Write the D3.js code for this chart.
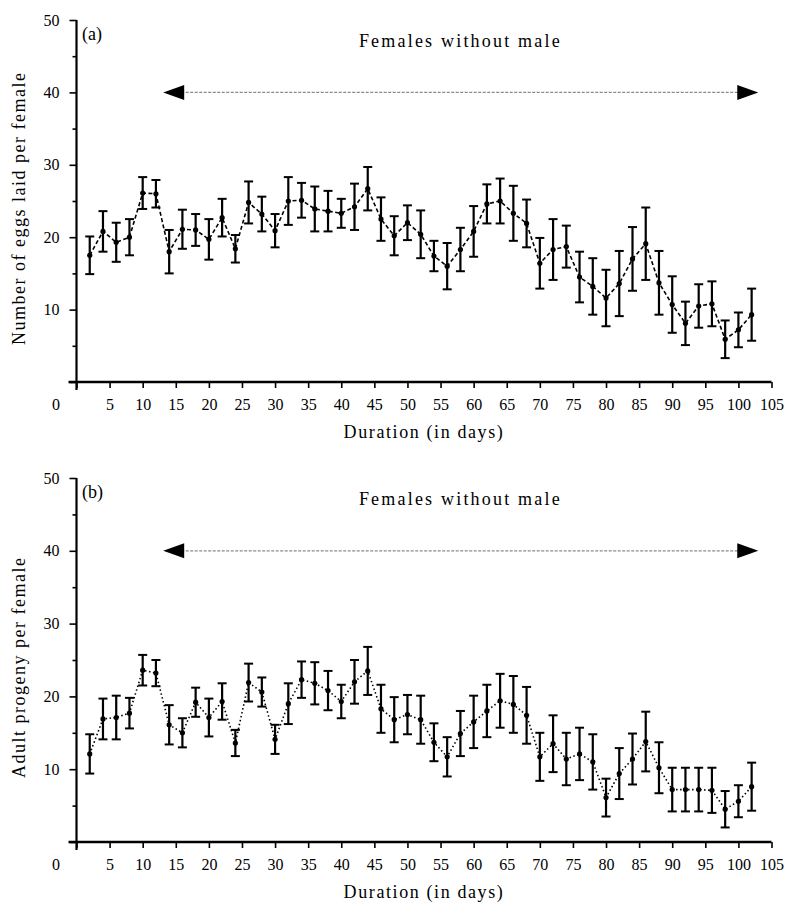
<!DOCTYPE html>
<html>
<head>
<meta charset="utf-8">
<script src="https://cdn.jsdelivr.net/npm/d3@7"></script>
<style>
  body { margin: 0; background: #fff; }
  text { font-family: "Liberation Serif", "Times New Roman", serif; fill: #000; }
</style>
</head>
<body>
<div id="chart"></div>
<script>
// Sampling days (every second day)
const days = [2, 4, 6, 8, 10, 12, 14, 16, 18, 20, 22, 24, 26, 28, 30, 32, 34, 36, 38, 40,
  42, 44, 46, 48, 50, 52, 54, 56, 58, 60, 62, 64, 66, 68, 70, 72, 74, 76, 78, 80,
  82, 84, 86, 88, 90, 92, 94, 96, 98, 100, 102];

// (a) eggs laid per female, mean and error
const eggsMean = [17.5, 20.8, 19.3, 20.0, 26.1, 26.0, 18.0, 21.1, 21.0, 19.7, 22.7, 18.4, 24.8, 23.2, 20.9,
  25.0, 25.1, 23.9, 23.6, 23.3, 24.2, 26.7, 22.5, 20.2, 22.0, 20.4, 17.4, 16.0, 18.3, 20.8,
  24.6, 25.0, 23.3, 21.9, 16.4, 18.3, 18.7, 14.5, 13.2, 11.6, 13.6, 17.0, 19.1, 13.7, 10.7,
  8.1, 10.5, 10.8, 5.9, 7.2, 9.3];
const eggsErr = [2.6, 2.8, 2.7, 2.5, 2.2, 1.9, 3.0, 2.7, 2.2, 2.8, 2.6, 1.9, 2.9, 2.4, 2.3,
  3.3, 2.4, 3.1, 2.8, 2.0, 3.2, 3.0, 3.0, 2.7, 2.4, 3.3, 2.1, 3.2, 3.0, 3.5,
  2.7, 3.1, 3.8, 3.3, 3.5, 4.2, 2.9, 3.5, 3.9, 3.9, 4.5, 4.4, 5.0, 4.4, 3.9,
  3.0, 3.0, 3.1, 2.6, 2.4, 3.6];

// (b) adult progeny per female, mean and error
const progenyMean = [12.1, 16.9, 17.1, 17.7, 23.6, 23.2, 16.1, 15.0, 19.2, 17.1, 19.3, 13.6, 21.9, 20.6, 14.1,
  19.0, 22.3, 21.8, 20.8, 19.3, 22.0, 23.5, 18.3, 16.8, 17.5, 16.8, 13.7, 11.7, 14.9, 16.5,
  18.0, 19.4, 18.9, 17.4, 11.7, 13.5, 11.4, 12.1, 11.0, 6.1, 9.4, 11.4, 13.8, 10.2, 7.2,
  7.2, 7.2, 7.1, 4.5, 5.6, 7.6];
const progenyErr = [2.7, 2.8, 3.0, 2.1, 2.1, 1.8, 2.7, 2.0, 2.0, 2.6, 2.5, 1.8, 2.6, 2.0, 2.0,
  2.8, 2.5, 2.9, 2.7, 2.3, 3.0, 3.3, 3.3, 3.1, 2.7, 3.3, 2.6, 2.7, 3.1, 3.6,
  3.6, 3.7, 3.9, 3.9, 3.3, 3.9, 3.6, 3.6, 3.8, 2.6, 3.5, 3.5, 4.1, 3.5, 3.0,
  3.0, 3.0, 3.1, 2.5, 2.2, 3.3];

// Axis ticks
const xTicks = [0, 5, 10, 15, 20, 25, 30, 35, 40, 45, 50, 55, 60, 65, 70, 75, 80, 85, 90, 95, 100, 105];
const yTicks = [0, 5, 10, 15, 20, 25, 30, 35, 40, 45, 50];
const yLabels = [10, 20, 30, 40, 50];

const width = 788, height = 905;

const svg = d3.select("#chart").append("svg")
    .attr("width", width)
    .attr("height", height);

const x = d3.scaleLinear().domain([0, 105]).range([76.5, 771.5]);

const panels = [
  { tag: "(a)", title: "Number of eggs laid per female", mean: eggsMean, err: eggsErr,
    range: [382, 20], dash: "4,2.5" },
  { tag: "(b)", title: "Adult progeny per female", mean: progenyMean, err: progenyErr,
    range: [842, 478], dash: "1.5,2.5" }
];

panels.forEach(p => {
  const y = d3.scaleLinear().domain([0, 50]).range(p.range);
  const g = svg.append("g");
  const data = days.map((d, i) => ({ day: d, mean: p.mean[i], err: p.err[i] }));

  // x axis
  const xAxis = g.append("g")
      .attr("transform", `translate(0,${y(0)})`)
      .call(d3.axisBottom(x).tickValues(xTicks).tickSize(6).tickPadding(11));
  xAxis.select(".domain").attr("d", `M${x(0) - 8},0H${x(105)}`).attr("stroke-width", 2.4);
  xAxis.selectAll(".tick line").attr("stroke-width", 1.6);
  xAxis.selectAll(".tick text").attr("font-size", 16).attr("font-family", "Liberation Serif");
  xAxis.selectAll(".tick").filter(d => d === 0).select("text").attr("x", -21);

  // y axis
  const yAxis = g.append("g")
      .attr("transform", `translate(${x(0)},0)`)
      .call(d3.axisLeft(y).tickValues(yTicks)
        .tickFormat(d => yLabels.includes(d) ? d : "")
        .tickSize(7).tickPadding(10));
  yAxis.select(".domain").attr("d", `M0,${y(0) + 8}V${y(50)}`).attr("stroke-width", 2.2);
  yAxis.selectAll(".tick line")
      .attr("x2", d => d % 10 === 0 ? -7 : -4)
      .attr("stroke-width", 1.6);
  yAxis.selectAll(".tick text").attr("font-size", 16).attr("font-family", "Liberation Serif");

  // axis titles
  g.append("text")
      .attr("x", (x(0) + x(105)) / 2)
      .attr("y", y(0) + 56)
      .attr("text-anchor", "middle")
      .attr("font-size", 18)
      .attr("letter-spacing", 1.6)
      .text("Duration (in days)");

  g.append("text")
      .attr("transform", `translate(25,${y(24)}) rotate(-90)`)
      .attr("text-anchor", "middle")
      .attr("font-size", 18)
      .attr("letter-spacing", 1.5)
      .text(p.title);

  g.append("text")
      .attr("x", 82)
      .attr("y", y(47.2))
      .attr("font-size", 18)
      .text(p.tag);

  // "Females without male" double arrow
  g.append("text")
      .attr("x", x(58))
      .attr("y", y(46.3))
      .attr("text-anchor", "middle")
      .attr("font-size", 18)
      .attr("letter-spacing", 2.2)
      .text("Females without male");

  const ax0 = x(13.1), ax1 = x(103), ay = y(40);
  g.append("line")
      .attr("x1", ax0 + 18).attr("x2", ax1 - 18)
      .attr("y1", ay).attr("y2", ay)
      .attr("stroke", "#8a8a8a")
      .attr("stroke-width", 1.2)
      .attr("stroke-dasharray", "3,1.5");
  g.append("path")
      .attr("d", `M${ax0},${ay}L${ax0 + 21},${ay - 7.5}L${ax0 + 21},${ay + 7.5}Z`)
      .attr("fill", "#000");
  g.append("path")
      .attr("d", `M${ax1},${ay}L${ax1 - 21},${ay - 7.5}L${ax1 - 21},${ay + 7.5}Z`)
      .attr("fill", "#000");

  // connecting line
  g.append("path")
      .datum(data)
      .attr("fill", "none")
      .attr("stroke", "#000")
      .attr("stroke-width", 1.6)
      .attr("stroke-dasharray", p.dash)
      .attr("d", d3.line().x(d => x(d.day)).y(d => y(d.mean)));

  // error bars
  const bars = g.append("g").selectAll("g")
      .data(data)
      .enter().append("g")
      .attr("stroke", "#000");
  bars.append("line")
      .attr("x1", d => x(d.day)).attr("x2", d => x(d.day))
      .attr("y1", d => y(d.mean - d.err)).attr("y2", d => y(d.mean + d.err))
      .attr("stroke-width", 2.2);
  bars.append("line")
      .attr("x1", d => x(d.day) - 4.5).attr("x2", d => x(d.day) + 4.5)
      .attr("y1", d => y(d.mean + d.err)).attr("y2", d => y(d.mean + d.err))
      .attr("stroke-width", 2);
  bars.append("line")
      .attr("x1", d => x(d.day) - 4.5).attr("x2", d => x(d.day) + 4.5)
      .attr("y1", d => y(d.mean - d.err)).attr("y2", d => y(d.mean - d.err))
      .attr("stroke-width", 2);

  // points
  g.append("g").selectAll("circle")
      .data(data)
      .enter().append("circle")
      .attr("cx", d => x(d.day))
      .attr("cy", d => y(d.mean))
      .attr("r", 2.6)
      .attr("fill", "#000");
});
</script>
</body>
</html>
